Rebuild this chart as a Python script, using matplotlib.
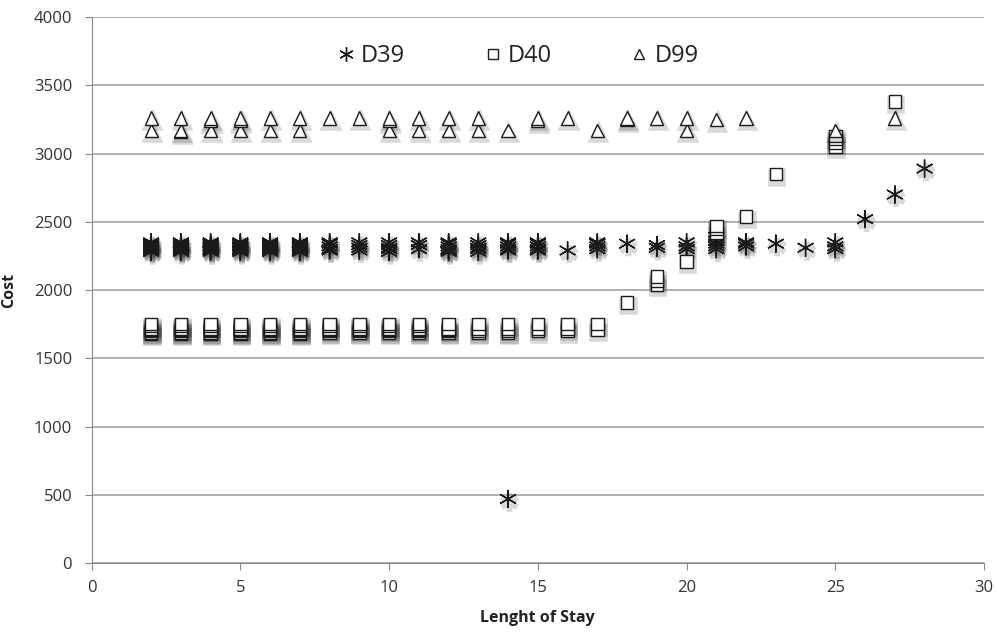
import matplotlib.pyplot as plt
import matplotlib.patheffects as pe

# Cost by length of stay (several overlapping cases per stay)
d39_cost = {
    2: [2280, 2290, 2300, 2310, 2320, 2330, 2340, 2350],
    3: [2280, 2290, 2300, 2310, 2320, 2330, 2340, 2350],
    4: [2280, 2290, 2300, 2310, 2320, 2330, 2340, 2350],
    5: [2280, 2290, 2300, 2310, 2320, 2330, 2340, 2350],
    6: [2280, 2290, 2300, 2310, 2320, 2330, 2340, 2350],
    7: [2280, 2290, 2300, 2310, 2320, 2330, 2340, 2350],
    8: [2290, 2300, 2320, 2340, 2350],
    9: [2290, 2310, 2330, 2350],
    10: [2280, 2300, 2310, 2330, 2350],
    11: [2300, 2330, 2350],
    12: [2280, 2290, 2300, 2320, 2340, 2350],
    13: [2280, 2300, 2310, 2330, 2350],
    14: [470, 2290, 2300, 2320, 2340, 2350],
    15: [2290, 2300, 2320, 2340, 2350],
    16: [2290],
    17: [2300, 2320, 2340, 2350],
    18: [2340],
    19: [2310, 2330],
    20: [2300, 2320, 2350],
    21: [2300, 2320, 2340, 2360, 2390],
    22: [2320, 2340, 2350],
    23: [2340],
    24: [2310],
    25: [2300, 2320, 2350],
    26: [2520],
    27: [2700],
    28: [2890],
}
d40_cost = {
    2: [1680, 1690, 1700, 1710, 1720, 1740, 1750],
    3: [1680, 1690, 1700, 1710, 1720, 1740, 1750],
    4: [1680, 1690, 1700, 1710, 1720, 1740, 1750],
    5: [1680, 1690, 1700, 1710, 1720, 1740, 1750],
    6: [1680, 1690, 1700, 1710, 1720, 1740, 1750],
    7: [1680, 1690, 1700, 1710, 1720, 1740, 1750],
    8: [1690, 1700, 1710, 1720, 1740, 1750],
    9: [1690, 1700, 1710, 1720, 1740, 1750],
    10: [1690, 1700, 1710, 1720, 1740, 1750],
    11: [1690, 1700, 1710, 1720, 1740, 1750],
    12: [1690, 1700, 1710, 1720, 1750],
    13: [1690, 1700, 1720, 1750],
    14: [1690, 1700, 1720, 1750],
    15: [1700, 1720, 1750],
    16: [1700, 1720, 1750],
    17: [1710, 1750],
    18: [1910],
    19: [2040, 2070, 2100],
    20: [2210],
    21: [2420, 2450, 2470],
    22: [2540],
    23: [2850],
    25: [3050, 3080, 3110, 3130],
    27: [3380],
}
d99_cost = {
    2: [3170, 3260],
    3: [3160, 3170, 3260],
    4: [3170, 3240, 3260],
    5: [3170, 3240, 3260],
    6: [3170, 3260],
    7: [3170, 3260],
    8: [3260],
    9: [3260],
    10: [3170, 3240, 3260],
    11: [3170, 3260],
    12: [3170, 3260],
    13: [3170, 3260],
    14: [3170],
    15: [3240, 3260],
    16: [3260],
    17: [3170],
    18: [3250, 3260],
    19: [3260],
    20: [3170, 3260],
    21: [3250],
    22: [3260],
    25: [3170],
    27: [3260],
}

series = [
    ('D39', d39_cost, (6, 2, 0), 13),
    ('D40', d40_cost, 's', 9),
    ('D99', d99_cost, '^', 9.5),
]

fig = plt.figure(figsize=(9.96, 6.32), dpi=100)
ax = fig.add_axes([0.092, 0.109, 0.896, 0.864])

shadow = [pe.SimpleLineShadow(offset=(1, -2.5), shadow_color='black', alpha=0.15, linewidth=4),
          pe.Normal()]

for name, cost, marker, size in series:
    xs = [los for los, vals in cost.items() for _ in vals]
    ys = [v for vals in cost.values() for v in vals]
    ax.plot(xs, ys, linestyle='none', marker=marker, markersize=size,
            markerfacecolor='white', markeredgecolor='#1a1a1a', markeredgewidth=1.0,
            label=name, path_effects=shadow)

ax.set_xlim(0, 30)
ax.set_ylim(0, 4000)
ax.set_xticks(range(0, 31, 5))
ax.set_yticks(range(0, 4001, 500))
ax.yaxis.grid(True, color='#9a9a9a', linewidth=1.1)
ax.set_axisbelow(True)
for side in ['top', 'right']:
    ax.spines[side].set_visible(False)
for side in ['left', 'bottom']:
    ax.spines[side].set_color('#8a8a8a')
ax.tick_params(axis='both', direction='out', length=5, color='#8a8a8a', labelsize=12,
               labelcolor='#333333')
ax.tick_params(axis='y', pad=9)
ax.tick_params(axis='x', pad=7)
for lab in ax.get_xticklabels() + ax.get_yticklabels():
    lab.set_family(['Open Sans', 'DejaVu Sans'])

ax.set_xlabel('Lenght of Stay', fontsize=11.5, fontweight='bold', color='#222222',
              family=['Open Sans', 'DejaVu Sans'])
ax.set_ylabel('Cost', fontsize=11.5, fontweight='bold', color='#222222',
              family=['Open Sans', 'DejaVu Sans'])
ax.xaxis.set_label_coords(0.5, -0.086)
ax.yaxis.set_label_coords(-0.084, 0.5)

leg = ax.legend(loc='upper center', bbox_to_anchor=(0.476, 0.99), ncol=3, frameon=False,
                markerscale=0.8, handletextpad=0.15, columnspacing=3.2, handlelength=1.0,
                prop={'family': ['Open Sans', 'DejaVu Sans'], 'size': 17})
for t in leg.get_texts():
    t.set_color('#222222')
for h in leg.get_lines():
    h.set_path_effects([])

fig.savefig('out.png', dpi=100, facecolor='white')
